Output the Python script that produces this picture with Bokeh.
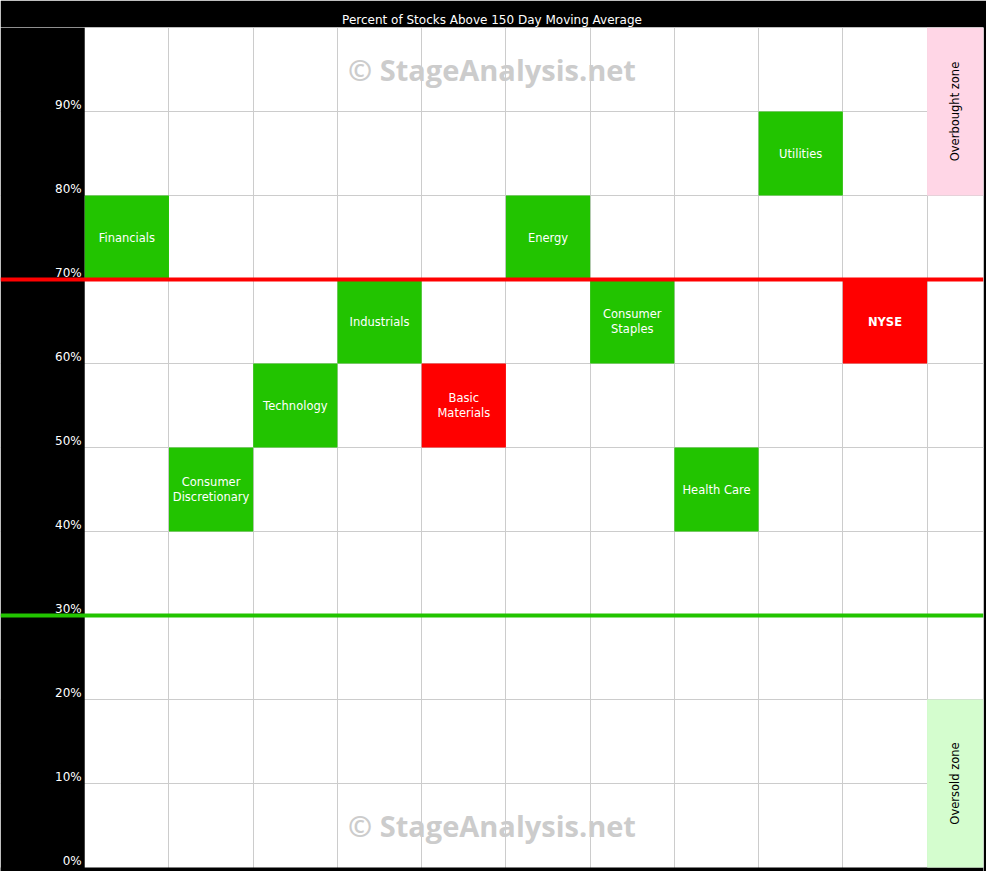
from bokeh.plotting import figure
from bokeh.models import FixedTicker, Span, ColumnDataSource, Range1d
from bokeh.core.properties import value
from bokeh.embed import file_html
from bokeh.resources import INLINE

# ---------------- data ----------------
chart_title = "Percent of Stocks Above 150 Day Moving Average"
sectors = ["Financials", "Consumer\nDiscretionary", "Technology", "Industrials",
           "Basic\nMaterials", "Energy", "Consumer\nStaples", "Health Care",
           "Utilities", "NYSE"]
bucket_low = [70, 40, 50, 60, 50, 70, 60, 40, 80, 60]          # % bucket floor
trend = ["up", "up", "up", "up", "down", "up", "up", "up", "up", "down"]
kind = ["sector"] * 9 + ["index"]
bucket_size = 10

y_ticks = [0, 10, 20, 30, 40, 50, 60, 70, 80, 90]
tick_labels = ["0%", "10%", "20%", "30%", "40%", "50%", "60%", "70%", "80%", "90%"]

zone_names = ["Overbought zone", "Oversold zone"]
zone_low = [80, 0]
zone_high = [100, 20]

overbought_level = 70
oversold_level = 30
watermark = "\u00a9 StageAnalysis.net"

# ---------------- styling ----------------
GREEN = "#22C400"
RED = "#FF0000"
trend_color = {"up": GREEN, "down": RED}
zone_colors = ["#FFD6E6", "#D4FDCE"]
LABEL_COL = 1.0     # width of the label column (in column units)
ZONE_COL = 0.67     # visible width of the zone column
BOTTOM_PAD = 0.476  # black strip below 0%
FONT = "DejaVu Sans"

n = len(sectors)
x_range = Range1d(-LABEL_COL, n + ZONE_COL)
y_range = Range1d(-BOTTOM_PAD, 100)

p = figure(width=986, height=871, x_range=x_range, y_range=y_range,
           output_backend="svg", toolbar_location=None,
           x_axis_location=None, y_axis_location=None,
           min_border_left=0, min_border_right=3, min_border_top=27, min_border_bottom=0,
           background_fill_color="white", border_fill_color="black",
           outline_line_color=None, title=chart_title)

p.title.text_color = "white"
p.title.align = "center"
p.title.text_font = FONT
p.title.text_font_size = "12px"
p.title.text_font_style = "normal"
p.title.standoff = 2

p.xgrid.ticker = FixedTicker(ticks=list(range(1, n + 1)))
p.ygrid.ticker = FixedTicker(ticks=y_ticks[1:])
p.xgrid.grid_line_color = "#CCCCCC"
p.ygrid.grid_line_color = "#CCCCCC"

# label column and bottom strip (black)
p.quad(left=[x_range.start, x_range.start], right=[0, x_range.end],
       bottom=[y_range.start, y_range.start], top=[y_range.end, 0],
       fill_color="black", line_color=None)

# y tick labels
p.text(x=[0] * len(y_ticks), y=y_ticks, text=tick_labels, x_offset=-3, y_offset=-7,
       text_align="right", text_baseline="alphabetic", text_color="white",
       text_font=value(FONT), text_font_size="12px")

# zones
zsrc = ColumnDataSource(dict(
    left=[n] * len(zone_names), right=[n + ZONE_COL] * len(zone_names),
    bottom=zone_low, top=zone_high, color=zone_colors, name=zone_names,
    xc=[n + ZONE_COL / 2] * len(zone_names),
    yc=[(a + b) / 2 for a, b in zip(zone_low, zone_high)]))
p.quad(left="left", right="right", bottom="bottom", top="top", fill_color="color",
       line_color=None, source=zsrc)
p.text(x="xc", y="yc", text="name", angle=1.5707963, text_align="center",
       text_baseline="middle", text_color="black", text_font=value(FONT),
       text_font_size="11.5px", source=zsrc)

# sector boxes
src = ColumnDataSource(dict(
    left=list(range(n)), right=[i + 1 for i in range(n)],
    bottom=bucket_low, top=[b + bucket_size for b in bucket_low],
    color=[trend_color[t] for t in trend], name=sectors,
    xc=[i + 0.5 for i in range(n)], yc=[b + bucket_size / 2 for b in bucket_low],
    style=["bold" if k == "index" else "normal" for k in kind]))
p.quad(left="left", right="right", bottom="bottom", top="top", fill_color="color",
       line_color=None, source=src)
p.text(x="xc", y="yc", text="name", text_align="center", text_baseline="middle",
       text_color="white", text_font=value(FONT), text_font_size="11.5px",
       text_font_style="style", text_line_height=1.1, source=src)

# watermarks
xc = (x_range.start + x_range.end) / 2
p.text(x=[xc, xc], y=[95, 5], text=[watermark, watermark], text_align="center",
       text_baseline="middle", text_color="#CCCCCC", text_font=value("Open Sans"),
       text_font_size="29px", text_font_style="bold")

# threshold lines
p.add_layout(Span(location=overbought_level, dimension="width", line_color=RED, line_width=4))
p.add_layout(Span(location=oversold_level, dimension="width", line_color=GREEN, line_width=4))

open("out.html", "w").write(file_html(p, INLINE))
